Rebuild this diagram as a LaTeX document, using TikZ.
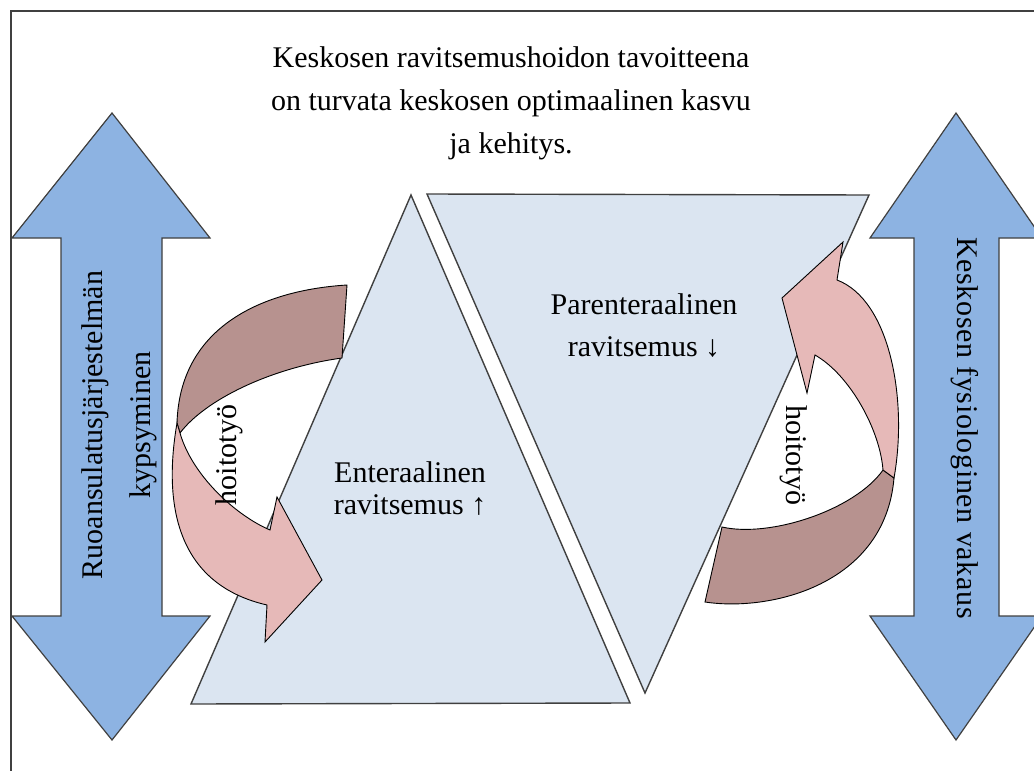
\documentclass[tikz,border=0pt]{standalone}
\usepackage{fontspec}
\setmainfont{Liberation Serif}
\newfontfamily\spreadfont[LetterSpace=2.2]{Liberation Serif}
\definecolor{bigblue}{HTML}{8DB3E2}
\definecolor{trifill}{HTML}{DBE5F1}
\definecolor{darkband}{HTML}{B7928F}
\definecolor{lightband}{HTML}{E6B9B8}

\begin{document}
\begin{tikzpicture}[x=1pt,y=-1pt,
    frame/.style={draw=black!75,line width=1.6pt},
    bigarrow/.style={fill=bigblue,draw=black!75,line width=1.2pt},
    tri/.style={fill=trifill,draw=black!75,line width=1.4pt},
    backband/.style={fill=darkband,draw=black,line width=0.9pt},
    frontband/.style={fill=lightband,draw=black,line width=0.9pt},
    lbl/.style={font=\fontsize{30}{32}\selectfont,inner sep=0pt,align=center}]
        \useasboundingbox (0,0) rectangle (1034,771);
        \draw[frame] (1034,11) -- (11,11) -- (11,771);
        % double arrows
        \filldraw[bigarrow] (112,113) -- (210,238) -- (162,238) -- (162,616) -- (210,616) -- (112,740)
            -- (12,616) -- (61,616) -- (61,238) -- (12,238) -- cycle;
        \filldraw[bigarrow] (956,113) -- (1042,238) -- (999,238) -- (999,616) -- (1042,616) -- (956,740)
            -- (870,616) -- (914,616) -- (914,238) -- (870,238) -- cycle;
        % triangles
        \filldraw[tri] (411,195) -- (630,703) -- (191,704) -- cycle;
        \filldraw[tri] (427,194) -- (869,195) -- (645,693) -- cycle;
        % left circular arrow
        \filldraw[backband] (347,285) .. controls (265,290) and (180,325) .. (177,423)
            -- (180,433) .. controls (205,400) and (270,368) .. (342,358) -- cycle;
        \filldraw[frontband] (177,423) .. controls (162,510) and (180,585) .. (267,605)
            -- (265,642) -- (322,580) -- (277,497) -- (270,530)
            .. controls (235,515) and (192,475) .. (180,433) -- cycle;
        % right circular arrow
        \filldraw[backband] (705,602) .. controls (770,612) and (885,585) .. (894,478)
            -- (883,470) .. controls (855,510) and (770,538) .. (722,527) -- cycle;
        \filldraw[frontband] (894,478) .. controls (908,400) and (890,300) .. (837,280)
            -- (843,242) -- (782,298) -- (807,393) -- (815,355)
            .. controls (850,375) and (880,430) .. (883,470) -- cycle;
        % texts
        \node[lbl,font=\fontsize{30}{43}\selectfont] (goal) at (511,103) {Keskosen ravitsemushoidon tavoitteena\\on turvata keskosen optimaalinen kasvu\\ja kehitys.};
        \node[lbl] (enteral) at (410,489) {Enteraalinen\\ravitsemus ↑};
        \node[lbl,font=\fontsize{30}{42}\selectfont] (parenteral) at (644,326) {Parenteraalinen\\ravitsemus ↓};
        \node[lbl,font=\fontsize{30}{48}\selectfont,rotate=90] (maturation) at (119,425) {Ruoansulatusjärjestelmän\\kypsyminen};
        \node[lbl,font=\spreadfont\fontsize{30}{32}\selectfont,rotate=-90] (stability) at (965,428) {Keskosen fysiologinen vakaus};
        \node[lbl,rotate=90] (careleft) at (229,455) {hoitotyö};
        \node[lbl,rotate=-90] (careright) at (794,455) {hoitotyö};
    \end{tikzpicture}
\end{document}
